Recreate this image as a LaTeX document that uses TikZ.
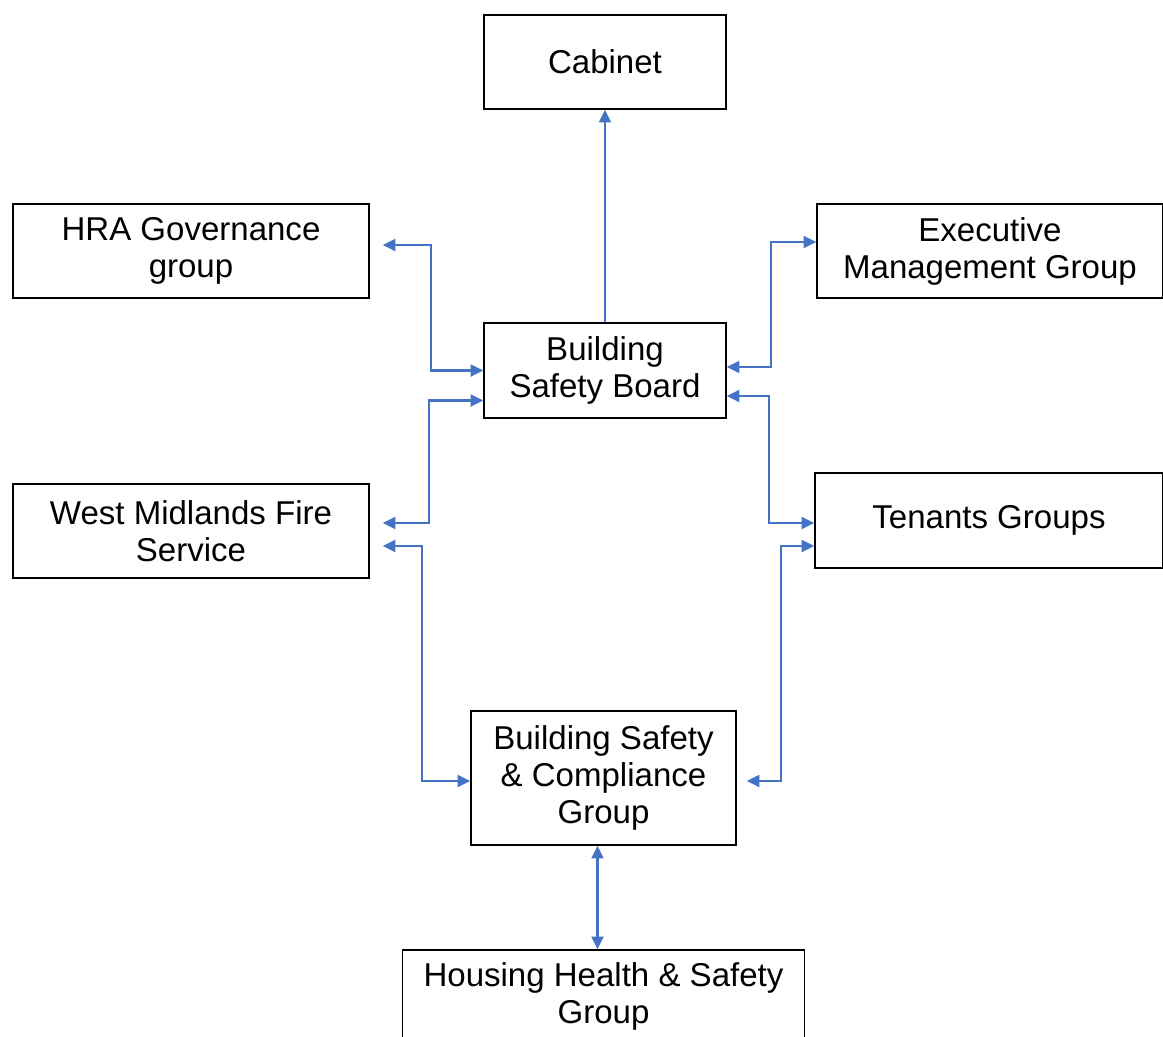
\documentclass[tikz,border=0pt]{standalone}
\usepackage{fontspec}
\setmainfont{Liberation Sans}
\usetikzlibrary{arrows.meta,calc}
\definecolor{linkblue}{HTML}{4472C4}
\tikzset{
  unit/.style={draw, line width=1pt, align=center, inner sep=0pt},
  link/.style={draw=linkblue, line width=1.2pt},
  tipblue/.tip={Triangle[length=2.5mm,width=2.4mm]},
}
\begin{document}
\begin{tikzpicture}[x=0.02cm, y=-0.02cm, font=\fontsize{18.8}{21}\selectfont]
        \useasboundingbox (0,0) rectangle (1163,1036);
        \node[unit, minimum width=4.84cm, minimum height=1.88cm] at (605,62) (cabinet) {Cabinet};
        \node[unit, minimum width=7.12cm, minimum height=1.88cm] at (191,251) (hra) {HRA Governance\\group};
        \node[unit, minimum width=6.92cm, minimum height=1.88cm] at (990,251) (emg) {Executive\\Management Group};
        \node[unit, minimum width=4.84cm, minimum height=1.90cm] at (605,370.5) (bsb) {Building\\Safety Board};
        \node[unit, minimum width=7.12cm, minimum height=1.88cm] at (191,531) (wmfs) {West Midlands Fire\\Service};
        \node[unit, minimum width=6.96cm, minimum height=1.90cm] at (989,520.5) (tenants) {Tenants Groups};
        \node[unit, minimum width=5.30cm, minimum height=2.68cm] at (603.5,778) (bscg) {Building Safety\\\& Compliance\\Group};
        \node[unit, minimum width=8.04cm, minimum height=1.84cm] at (603.5,996) (hhsg) {Housing Health \& Safety\\Group};
        \draw[link, -tipblue] (bsb.north) -- (cabinet.south);
        \draw[link, tipblue-tipblue] ($(hra.east)+(13,-6)$) -| ($(bsb.west)+(-52,0)$) -- (bsb.west);
        \draw[link, tipblue-tipblue] ($(wmfs.east)+(13,-8)$) -| ($(bsb.west)+(-54,30)$) -- ($(bsb.west)+(0,30)$);
        \draw[link, tipblue-tipblue] ($(wmfs.east)+(13,15)$) -| ($(bscg.west)+(-48,3)$) -- ($(bscg.west)+(0,3)$);
        \draw[link, tipblue-tipblue] ($(emg.west)+(0,-9)$) -| ($(bsb.east)+(44,-3.5)$) -- ($(bsb.east)+(0,-3.5)$);
        \draw[link, tipblue-tipblue] ($(bsb.east)+(0,25.5)$) -| ($(tenants.west)+(-45,2.5)$) -- ($(tenants.west)+(0,2.5)$);
        \draw[link, tipblue-tipblue] ($(tenants.west)+(0,25.5)$) -| ($(bscg.east)+(44,3)$) -- ($(bscg.east)+(10,3)$);
        \draw[link, tipblue-tipblue] ($(bscg.south)+(-6,0)$) -- ($(hhsg.north)+(-6,0)$);
      \end{tikzpicture}
\end{document}
